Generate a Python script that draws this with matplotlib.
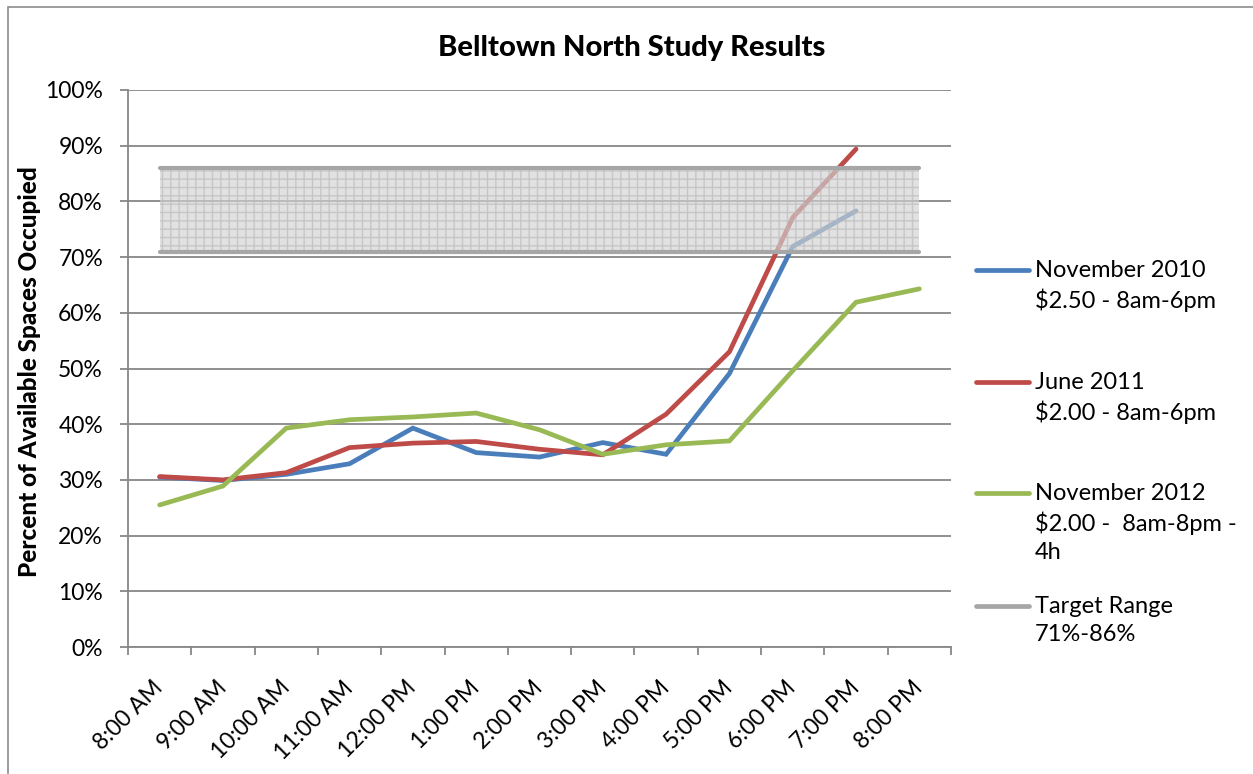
import numpy as np
import matplotlib
matplotlib.use("Agg")
import matplotlib.pyplot as plt
from matplotlib.lines import Line2D
from matplotlib.patches import Rectangle
from matplotlib.ticker import PercentFormatter, MultipleLocator

# Hourly occupancy, percent of available spaces
times = ['8:00 AM', '9:00 AM', '10:00 AM', '11:00 AM', '12:00 PM', '1:00 PM',
         '2:00 PM', '3:00 PM', '4:00 PM', '5:00 PM', '6:00 PM', '7:00 PM',
         '8:00 PM']
nov_2010 = [30.5, 29.9, 31.0, 32.9, 39.3, 34.9, 34.1, 36.7, 34.6, 49.1, 71.9,
            78.3, np.nan]
jun_2011 = [30.6, 30.0, 31.3, 35.8, 36.6, 36.9, 35.5, 34.5, 41.8, 53.0, 77.1,
            89.4, np.nan]
nov_2012 = [25.5, 28.9, 39.3, 40.8, 41.3, 42.0, 39.0, 34.6, 36.3, 37.0, 49.6,
            61.9, 64.3]
target_low, target_high = 71, 86

series_labels = ['November 2010\n$2.50 - 8am-6pm',
                 'June 2011\n$2.00 - 8am-6pm',
                 'November 2012\n$2.00 -  8am-8pm -\n4h',
                 'Target Range\n71%-86%']
colors = ['#4a7ebb', '#be4b48', '#98b954', '#a6a6a6']

plt.rcParams['font.family'] = ['Lato', 'DejaVu Sans']
W, H = 1253, 774
fig = plt.figure(figsize=(W / 100, H / 100), dpi=100)
ax = fig.add_axes([128 / W, 1 - 647 / H, (951 - 128) / W, (647 - 90) / H])

x = np.arange(len(times))
for vals, c in zip([nov_2010, jun_2011, nov_2012], colors):
    ax.plot(x, vals, color=c, lw=3.4, solid_capstyle='round',
            solid_joinstyle='miter', zorder=3)

# target band, drawn over the lines with some transparency
ax.fill_between(x, target_low, target_high, facecolor='#d2d2d2',
                edgecolor='#b8b8b8', hatch='++', lw=0, alpha=0.65, zorder=4)
for lvl in (target_low, target_high):
    ax.plot(x, [lvl] * len(x), color=colors[3], lw=3.0,
            solid_capstyle='round', zorder=5)

ax.set_xlim(-0.5, len(times) - 0.5)
ax.set_ylim(0, 100)
ax.yaxis.set_major_locator(MultipleLocator(10))
ax.yaxis.set_major_formatter(PercentFormatter(100, decimals=0))
ax.grid(axis='y', color='#878787', lw=1.3)
ax.set_axisbelow(True)

ax.set_xticks(x)
ax.set_xticklabels(times, rotation=45, ha='right', va='center',
                   rotation_mode='anchor', fontsize=16.5)
ax.set_xticks(np.arange(-0.5, len(times)), minor=True)
ax.tick_params(axis='x', which='major', length=0, pad=27)
ax.tick_params(axis='x', which='minor', length=6, width=1.3, color='#878787')
ax.tick_params(axis='y', length=6, width=1.3, color='#878787', pad=12,
               labelsize=16.5)

for side in ('top', 'right'):
    ax.spines[side].set_visible(False)
for side in ('left', 'bottom'):
    ax.spines[side].set_color('#878787')
    ax.spines[side].set_linewidth(1.3)

fig.text(632 / W, 1 - 48 / H, 'Belltown North Study Results',
         ha='center', va='center', fontsize=21, fontweight='black')
fig.text(30 / W, 1 - 372 / H, 'Percent of Available Spaces Occupied',
         rotation=90, ha='center', va='center', fontsize=17.5,
         fontweight='black')

# legend on the right, line sample next to the first text line
legend_y = [270, 382, 493, 606]
for lab, c, y in zip(series_labels, colors, legend_y):
    fig.add_artist(Line2D([976 / W, 1029 / W], [1 - y / H, 1 - y / H],
                          color=c, lw=3.4, solid_capstyle='round'))
    fig.text(1035 / W, 1 - (y - 10) / H, lab, ha='left', va='top',
             fontsize=17, linespacing=1.4)

# chart border
fig.add_artist(Rectangle((8 / W, -0.1), 1.2, 1 - 7 / H + 0.1,
                         transform=fig.transFigure, fill=False,
                         edgecolor='#8c8c8c', lw=1.2))

fig.savefig('out.png', dpi=100)
